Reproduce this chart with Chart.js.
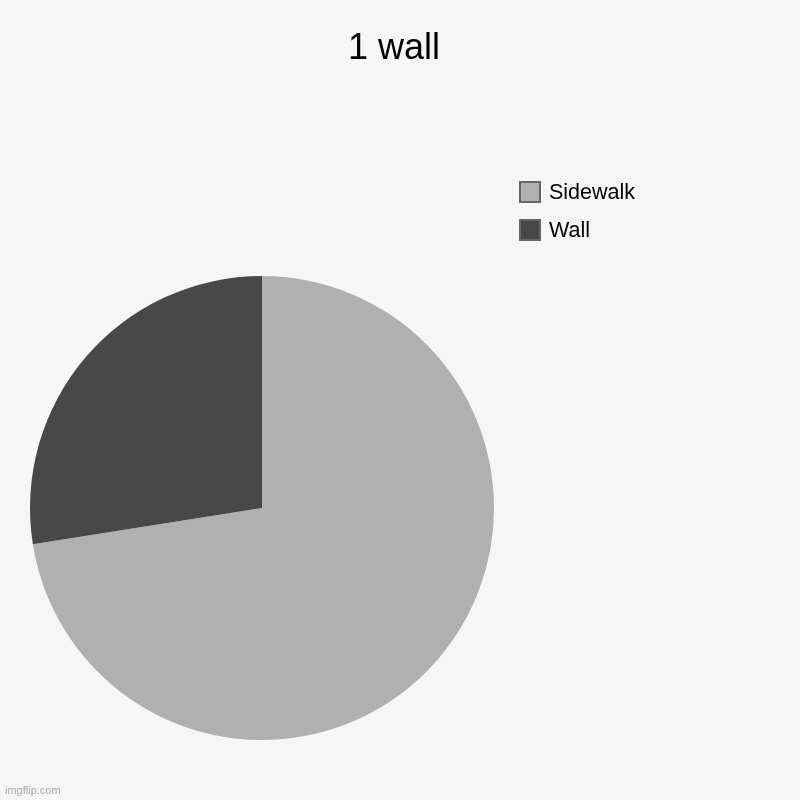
<!DOCTYPE html>
<html>
<head>
<meta charset="utf-8">
<script src="https://cdn.jsdelivr.net/npm/chart.js@4/dist/chart.umd.min.js"></script>
<style>
  html, body { margin: 0; padding: 0; background: #f6f6f6; }
  #wrap { width: 800px; height: 800px; position: relative; }
</style>
</head>
<body>
<div id="wrap"><canvas id="pieChart" width="800" height="800"></canvas></div>
<script>
// chart data
const labels = ["Sidewalk", "Wall"];
const values = [72.5, 27.5];
const sliceColors = ["#b0b0b0", "#484848"];
const chartTitle = "1 wall";
const watermark = "imgflip.com";

// draws title, legend and watermark at fixed spots like the imgflip image
const overlayPlugin = {
    id: "overlay",
    beforeDraw(chart) {
        const ctx = chart.ctx;
        ctx.save();
        ctx.fillStyle = "#f6f6f6";
        ctx.fillRect(0, 0, chart.width, chart.height);
        ctx.restore();
    },
    afterDraw(chart) {
        const ctx = chart.ctx;
        ctx.save();
        ctx.fillStyle = "#000";
        ctx.textAlign = "center";
        ctx.textBaseline = "middle";
        ctx.font = "36px 'Liberation Sans', Arial, sans-serif";
        ctx.fillText(chartTitle, 394, 49);

        // legend
        const ds = chart.data.datasets[0];
        ctx.textAlign = "left";
        ctx.font = "21.5px 'Liberation Sans', Arial, sans-serif";
        chart.data.labels.forEach((lab, i) => {
            const y = 181 + i * 38;
            ctx.fillStyle = ds.backgroundColor[i];
            ctx.fillRect(519, y, 22, 22);
            ctx.strokeStyle = "#666";
            ctx.lineWidth = 2;
            ctx.strokeRect(520, y + 1, 20, 20);
            ctx.fillStyle = "#000";
            ctx.fillText(lab, 549, y + 12);
        });

        ctx.fillStyle = "#aaa";
        ctx.font = "11px 'Liberation Sans', Arial, sans-serif";
        ctx.fillText(watermark, 5, 791);
        ctx.restore();
    }
};

new Chart(document.getElementById("pieChart").getContext("2d"), {
    type: "pie",
    data: {
        labels: labels,
        datasets: [{
            data: values,
            backgroundColor: sliceColors,
            borderWidth: 0
        }]
    },
    options: {
        responsive: false,
        animation: false,
        layout: { padding: { left: 30, right: 306, top: 276, bottom: 60 } },
        plugins: {
            legend: { display: false },
            title: { display: false },
            tooltip: { enabled: false }
        }
    },
    plugins: [overlayPlugin]
});
</script>
</body>
</html>
